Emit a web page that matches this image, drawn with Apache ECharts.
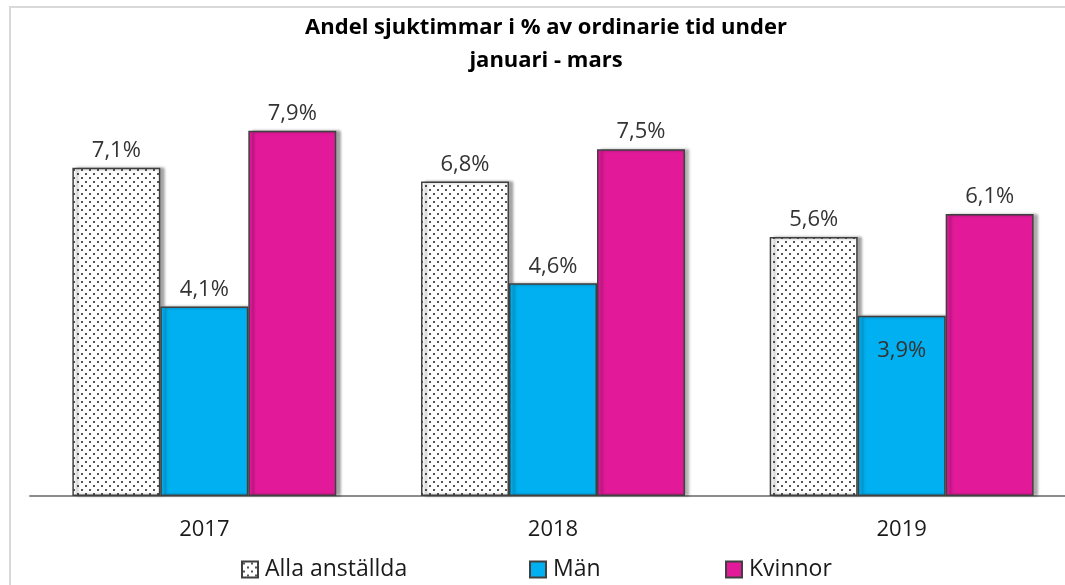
<!DOCTYPE html>
<html>
<head>
<meta charset="utf-8">
<script src="https://cdn.jsdelivr.net/npm/echarts@6/dist/echarts.min.js"></script>
<style>
  html, body { margin: 0; padding: 0; background: #fff; overflow: hidden; }
  #chart { width: 1085px; height: 585px; }
</style>
</head>
<body>
<div id="chart"></div>
<script>
(function () {
    "use strict";

    /*----data----*/
    var years = ['2017', '2018', '2019'];
    var seriesNames = ['Alla anställda', 'Män', 'Kvinnor'];
    var allaAnstallda = [7.1, 6.8, 5.6];
    var man = [4.1, 4.6, 3.9];
    var kvinnor = [7.9, 7.5, 6.1];

    // dotted fill for "Alla anställda"
    var dots = document.createElement('canvas');
    dots.width = 8;
    dots.height = 8;
    var dctx = dots.getContext('2d');
    dctx.fillStyle = '#ffffff';
    dctx.fillRect(0, 0, 8, 8);
    dctx.fillStyle = '#555555';
    dctx.fillRect(1, 1, 2, 2);
    dctx.fillRect(5, 5, 2, 2);

    function pct(p) {
        return p.value.toFixed(1).replace('.', ',') + '%';
    }

    var baseStyle = {
        borderColor: '#404040',
        borderWidth: 1.5,
        shadowColor: 'rgba(0,0,0,0.35)',
        shadowBlur: 3,
        shadowOffsetX: 4,
        shadowOffsetY: 0
    };

    var labelTop = {
        show: true,
        position: 'top',
        distance: 6,
        formatter: pct,
        fontFamily: 'Open Sans',
        fontSize: 22,
        color: '#333333'
    };

    var chartdata = [{
        name: seriesNames[0],
        type: 'bar',
        data: allaAnstallda,
        itemStyle: Object.assign({ color: { image: dots, repeat: 'repeat' } }, baseStyle),
        label: labelTop
    }, {
        name: seriesNames[1],
        type: 'bar',
        data: man.map(function (v, i) {
            if (i === 2) {
                return { value: v, label: { position: 'insideTop', distance: 24 } };
            }
            return v;
        }),
        itemStyle: Object.assign({ color: '#00B0F0' }, baseStyle),
        label: labelTop
    }, {
        name: seriesNames[2],
        type: 'bar',
        data: kvinnor,
        itemStyle: Object.assign({ color: '#E21A9A' }, baseStyle),
        label: labelTop
    }];

    function legendAt(name, x) {
        return {
            left: x,
            top: 553,
            itemWidth: 16,
            itemHeight: 16,
            itemGap: 0,
            icon: 'rect',
            selectedMode: false,
            textStyle: {
                fontFamily: 'Open Sans',
                fontSize: 23,
                color: '#1a1a1a',
                padding: [0, 0, 0, 2]
            },
            data: [name]
        };
    }

    var option = {
        animation: false,
        title: {
            text: 'Andel sjuktimmar i % av ordinarie tid under\njanuari - mars',
            left: 541,
            textAlign: 'center',
            top: 6,
            textStyle: {
                fontFamily: 'Open Sans',
                fontSize: 22,
                fontWeight: 'bold',
                color: '#000',
                lineHeight: 33
            }
        },
        legend: [
            legendAt(seriesNames[0], 236),
            legendAt(seriesNames[1], 524),
            legendAt(seriesNames[2], 720)
        ],
        grid: {
            left: 30,
            top: 126,
            width: 1046,
            height: 370
        },
        xAxis: {
            type: 'category',
            data: years,
            axisLine: {
                lineStyle: { color: '#8c8c8c', width: 2 }
            },
            axisTick: { show: false },
            axisLabel: {
                margin: 23,
                fontFamily: 'Open Sans',
                fontSize: 22,
                color: '#1a1a1a'
            }
        },
        yAxis: {
            type: 'value',
            min: 0,
            max: 8,
            show: false,
            splitLine: { show: false }
        },
        barGap: '0%',
        barCategoryGap: '24.3%',
        series: chartdata,
        graphic: [{
            type: 'rect',
            shape: { x: 10, y: 7, width: 1100, height: 620 },
            style: { fill: 'none', stroke: '#d9d9d9', lineWidth: 2 },
            silent: true,
            z: -1
        }]
    };

    var barChart = echarts.init(document.getElementById('chart'));
    barChart.setOption(option);
})();
</script>
</body>
</html>
